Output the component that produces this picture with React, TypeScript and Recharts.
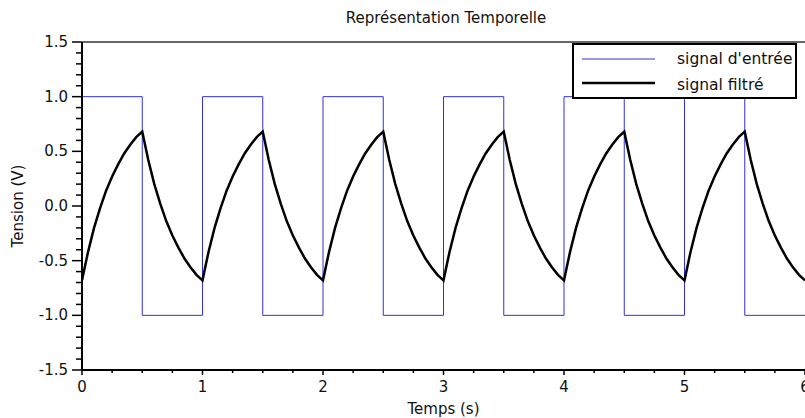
import { LineChart, Line, XAxis, YAxis, ReferenceLine, Legend } from 'recharts'

// input square wave (V), sampled at each switching instant (s)
const squareTimes = [0, 0.5, 1, 1.5, 2, 2.5, 3, 3.5, 4, 4.5, 5, 5.5, 6]
const squareValues = [1, -1, 1, -1, 1, -1, 1, -1, 1, -1, 1, -1, -1]

// filtered signal (V), read every 0.05 s
const filterStep = 0.05
const filterValues = [
  -0.68,
  -0.42, -0.2, -0.02, 0.14, 0.27, 0.38, 0.48, 0.56, 0.63, 0.68,
  0.42, 0.2, 0.02, -0.14, -0.27, -0.38, -0.48, -0.56, -0.63, -0.68,
  -0.42, -0.2, -0.02, 0.14, 0.27, 0.38, 0.48, 0.56, 0.63, 0.68,
  0.42, 0.2, 0.02, -0.14, -0.27, -0.38, -0.48, -0.56, -0.63, -0.68,
  -0.42, -0.2, -0.02, 0.14, 0.27, 0.38, 0.48, 0.56, 0.63, 0.68,
  0.42, 0.2, 0.02, -0.14, -0.27, -0.38, -0.48, -0.56, -0.63, -0.68,
  -0.42, -0.2, -0.02, 0.14, 0.27, 0.38, 0.48, 0.56, 0.63, 0.68,
  0.42, 0.2, 0.02, -0.14, -0.27, -0.38, -0.48, -0.56, -0.63, -0.68,
  -0.42, -0.2, -0.02, 0.14, 0.27, 0.38, 0.48, 0.56, 0.63, 0.68,
  0.42, 0.2, 0.02, -0.14, -0.27, -0.38, -0.48, -0.56, -0.63, -0.68,
  -0.42, -0.2, -0.02, 0.14, 0.27, 0.38, 0.48, 0.56, 0.63, 0.68,
  0.42, 0.2, 0.02, -0.14, -0.27, -0.38, -0.48, -0.56, -0.63, -0.68,
]

const xTicks = Array.from({ length: 25 }, (_, i) => i * 0.25)
const yTicks = Array.from({ length: 31 }, (_, i) => Math.round((-1.5 + i * 0.1) * 10) / 10)

const seriesNames = ["signal d'entrée", 'signal filtré']

const FONT = 'DejaVu Sans, sans-serif'
const FS = 15
const BLUE = '#3030e0'

const squareData = squareTimes.map((t, i) => ({ t, v: squareValues[i] }))
const filterData = filterValues.map((v, i) => ({ t: Math.round(i * filterStep * 100) / 100, v }))

function XTick({ x, y, payload }: any) {
  const v = payload.value as number
  const major = Math.abs(v - Math.round(v)) < 1e-6
  return (
    <g>
      <line x1={x} x2={x} y1={y} y2={y + (major ? 5 : 3)} stroke="#000" strokeWidth={1.5} />
      {major && (
        <text x={x} y={y + 22} textAnchor="middle" fontSize={FS} fontFamily={FONT} fill="#111">
          {v}
        </text>
      )}
    </g>
  )
}

function YTick({ x, y, payload }: any) {
  const v = payload.value as number
  const major = Math.abs(v * 2 - Math.round(v * 2)) < 1e-6
  return (
    <g>
      <line x1={x - (major ? 10 : 6)} x2={x} y1={y} y2={y} stroke="#000" strokeWidth={1.5} />
      {major && (
        <text x={x - 14} y={y + 5} textAnchor="end" fontSize={FS} fontFamily={FONT} fill="#111">
          {v.toFixed(1)}
        </text>
      )}
    </g>
  )
}

function LegendBox() {
  return (
    <svg width={225} height={56} style={{ display: 'block' }}>
      <rect x={1} y={1} width={223} height={54} fill="#fff" stroke="#000" strokeWidth={2} />
      <line x1={10} x2={83} y1={16} y2={16} stroke={BLUE} strokeWidth={1} />
      <line x1={10} x2={83} y1={40} y2={40} stroke="#000" strokeWidth={2.5} />
      <text x={105} y={21} fontSize={15.5} fontFamily={FONT} fill="#111">{seriesNames[0]}</text>
      <text x={105} y={47} fontSize={15.5} fontFamily={FONT} fill="#111">{seriesNames[1]}</text>
    </svg>
  )
}

export default function App() {
  return (
    <div style={{ position: 'absolute', left: 0, top: 0, width: 805, height: 418, background: '#fff' }}>
      <div
        style={{
          position: 'absolute',
          left: 0,
          width: 892,
          top: 9,
          textAlign: 'center',
          fontFamily: FONT,
          fontSize: FS,
          color: '#111',
          zIndex: 2,
        }}
      >
        Représentation Temporelle
      </div>
      <LineChart width={805} height={418} margin={{ top: 42, right: 0, left: 0, bottom: 0 }} style={{ fontFamily: FONT }}>
        <XAxis
          dataKey="t"
          type="number"
          domain={[0, 6]}
          ticks={xTicks}
          interval={0}
          allowDataOverflow
          height={48}
          tickSize={0}
          tickMargin={0}
          tick={<XTick />}
          axisLine={{ stroke: '#000', strokeWidth: 2 }}
          label={{ value: 'Temps (s)', position: 'insideBottom', offset: 4, fontSize: FS, fill: '#111' }}
        />
        <YAxis
          type="number"
          domain={[-1.5, 1.5]}
          ticks={yTicks}
          interval={0}
          allowDataOverflow
          width={82}
          tickSize={0}
          tickMargin={0}
          tick={<YTick />}
          axisLine={{ stroke: '#000', strokeWidth: 2 }}
          label={{
            value: 'Tension (V)',
            angle: -90,
            position: 'insideLeft',
            offset: 18,
            fontSize: FS,
            fill: '#111',
            style: { textAnchor: 'middle' },
          }}
        />
        <ReferenceLine y={1.5} stroke="#333" strokeWidth={1.5} />
        <Line
          data={squareData}
          dataKey="v"
          name={seriesNames[0]}
          type="stepAfter"
          stroke={BLUE}
          strokeWidth={1}
          dot={false}
          isAnimationActive={false}
        />
        <Line
          data={filterData}
          dataKey="v"
          name={seriesNames[1]}
          type="linear"
          stroke="#000"
          strokeWidth={2.5}
          dot={false}
          isAnimationActive={false}
        />
        <Legend
          layout="horizontal"
          verticalAlign="middle"
          align="center"
          content={<LegendBox />}
          wrapperStyle={{ position: 'absolute', left: 572, top: 43, width: 225, height: 56 }}
        />
      </LineChart>
    </div>
  )
}
